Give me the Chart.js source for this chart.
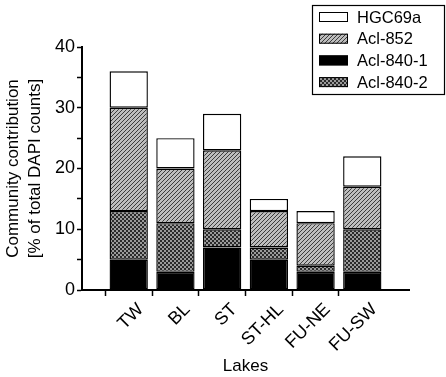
<!DOCTYPE html>
<html>
<head>
<meta charset="utf-8">
<script src="https://cdn.jsdelivr.net/npm/chart.js@4/dist/chart.umd.min.js"></script>
<style>
  html, body { margin: 0; padding: 0; background: #fff; }
  #wrap { width: 446px; height: 377px; position: relative; }
</style>
</head>
<body>
<div id="wrap"><canvas id="lakesChart"></canvas></div>
<script>
// empty slots at both ends leave the gap seen left and right of the bars
const lakes = ['', 'TW', 'BL', 'ST', 'ST-HL', 'FU-NE', 'FU-SW', ''];
const acl8401 = [null, 5, 3, 7, 5, 3, 3, null];
const acl8402 = [null, 8, 8, 3, 2, 1, 7, null];
const acl852 = [null, 17, 9, 13, 6, 7, 7, null];
const hgc69a = [null, 6, 5, 6, 2, 2, 5, null];
const yTicks = [0, 10, 20, 30, 40];
const legendOrder = ['HGC69a', 'Acl-852', 'Acl-840-1', 'Acl-840-2'];

const FONT = '"Liberation Sans", Arial, sans-serif';

// fill patterns
function makeHatch() {
  const c = document.createElement('canvas');
  c.width = 4; c.height = 4;
  const g = c.getContext('2d');
  g.fillStyle = '#bdbdbd';
  g.fillRect(0, 0, 4, 4);
  g.fillStyle = '#3c3c3c';
  // "/" diagonal, one pixel per row
  g.fillRect(3, 0, 1, 1);
  g.fillRect(2, 1, 1, 1);
  g.fillRect(1, 2, 1, 1);
  g.fillRect(0, 3, 1, 1);
  return g.createPattern(c, 'repeat');
}
function makeCross() {
  const c = document.createElement('canvas');
  c.width = 4; c.height = 4;
  const g = c.getContext('2d');
  g.fillStyle = '#9a9a9a';
  g.fillRect(0, 0, 4, 4);
  g.fillStyle = '#2a2a2a';
  g.fillRect(0, 0, 2, 2);
  g.fillRect(2, 2, 2, 2);
  return g.createPattern(c, 'repeat');
}
const hatch = makeHatch();
const cross = makeCross();

// legend box in the top right corner, drawn over the canvas
const boxLegend = {
  id: 'boxLegend',
  afterDraw(chart) {
    const ctx = chart.ctx;
    ctx.save();
    ctx.strokeStyle = '#000';
    ctx.lineWidth = 1.2;
    ctx.strokeRect(312.5, 5.5, 132, 89);
    ctx.font = '16.5px ' + FONT;
    ctx.textBaseline = 'middle';
    legendOrder.forEach((name, i) => {
      const ds = chart.data.datasets.find(d => d.label === name);
      const y = 17 + i * 21.7;
      ctx.fillStyle = ds.backgroundColor;
      ctx.fillRect(319, y - 5, 29, 10);
      ctx.lineWidth = 1;
      ctx.strokeRect(319.5, y - 4.5, 28, 9);
      ctx.fillStyle = '#000';
      ctx.fillText(name, 357, y + 1);
    });
    ctx.restore();
  }
};

const common = {
  borderColor: '#000',
  borderWidth: 1.4,
  borderSkipped: false,
  categoryPercentage: 1,
  barPercentage: 0.82,
};

new Chart(document.getElementById('lakesChart'), {
  type: 'bar',
  data: {
    labels: lakes,
    datasets: [
      Object.assign({ label: 'Acl-840-1', data: acl8401, backgroundColor: '#000' }, common),
      Object.assign({ label: 'Acl-840-2', data: acl8402, backgroundColor: cross }, common),
      Object.assign({ label: 'Acl-852', data: acl852, backgroundColor: hatch }, common),
      Object.assign({ label: 'HGC69a', data: hgc69a, backgroundColor: '#fff' }, common),
    ],
  },
  options: {
    responsive: true,
    maintainAspectRatio: false,
    animation: false,
    layout: { padding: { top: 47, right: 37, left: 0, bottom: 0 } },
    plugins: {
      legend: { display: false },
      tooltip: { enabled: false },
    },
    scales: {
      x: {
        stacked: true,
        offset: false,
        afterFit: function(scale) { scale.height = 87; },
        border: { color: '#000', width: 2 },
        grid: {
          drawOnChartArea: false,
          tickLength: 6,
          tickWidth: 1.5,
          tickColor: function(ctx) {
            return lakes[ctx.index] ? '#000' : 'rgba(0,0,0,0)';
          },
        },
        ticks: {
          color: '#000',
          font: { family: FONT, size: 18 },
          minRotation: 45,
          maxRotation: 45,
          autoSkip: false,
          padding: 3,
          labelOffset: 12,
        },
        title: {
          display: true,
          text: 'Lakes',
          color: '#000',
          font: { family: FONT, size: 17 },
          padding: { top: 0, bottom: 0 },
        },
      },
      y: {
        stacked: true,
        min: 0,
        max: 40,
        afterFit: function(scale) { scale.width = 82; },
        border: { color: '#000', width: 2 },
        grid: {
          drawOnChartArea: false,
          tickLength: 5,
          tickWidth: 1.5,
          tickColor: '#000',
        },
        ticks: {
          stepSize: 5,
          color: '#000',
          font: { family: FONT, size: 18 },
          padding: 2,
          callback: function(v) { return yTicks.includes(v) ? v : ''; },
        },
        title: {
          display: true,
          text: ['Community contribution', '[% of total DAPI counts]'],
          color: '#000',
          font: { family: FONT, size: 17, lineHeight: 1.25 },
          padding: { top: 3, bottom: 4 },
        },
      },
    },
  },
  plugins: [boxLegend],
});
</script>
</body>
</html>
